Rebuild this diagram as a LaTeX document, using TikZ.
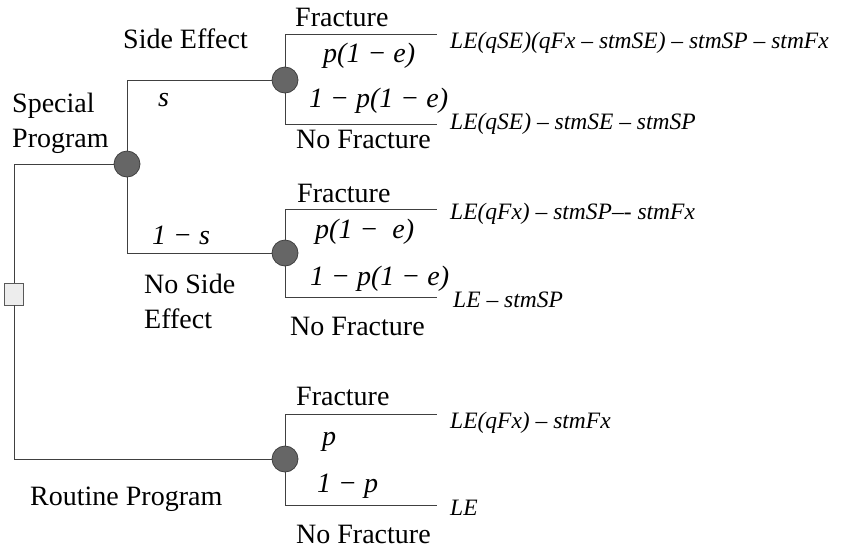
\documentclass[tikz,border=0pt]{standalone}
\usepackage{fontspec}
\setmainfont{Liberation Serif}
\begin{document}
\begin{tikzpicture}[x=1pt,y=-1pt,
  branch/.style={draw=black!75,line width=0.9pt},
  chance/.style={circle,draw=black!75,fill=black!60,line width=0.8pt,minimum size=26pt,inner sep=0pt},
  decision/.style={rectangle,draw=black!65,fill=black!7,line width=0.8pt,minimum width=19pt,minimum height=22pt,inner sep=0pt},
  lbl/.style={anchor=base west,inner sep=0pt,font=\fontsize{28}{34}\selectfont},
  prob/.style={anchor=base west,inner sep=0pt,font=\fontsize{28}{34}\selectfont\itshape},
  pay/.style={anchor=base west,inner sep=0pt,font=\fontsize{23.5}{28}\selectfont\itshape}]
\useasboundingbox (0,0) rectangle (841,550);

% decision and chance nodes
\node[decision] (sq) at (14,294) {};
\node[chance] (A) at (127,164) {};
\node[chance] (B) at (285,80) {};
\node[chance] (C) at (285,253) {};
\node[chance] (D) at (285,459) {};

% branch end points
\coordinate (bF) at (437,34);
\coordinate (bN) at (437,124);
\coordinate (cF) at (437,209);
\coordinate (cN) at (437,297);
\coordinate (dF) at (437,414);
\coordinate (dN) at (437,505);

% connectors
\draw[branch] (sq.north) |- (A.west);
\draw[branch] (sq.south) |- (D.west);
\draw[branch] (A.north) |- (B.west);
\draw[branch] (A.south) |- (C.west);
\draw[branch] (B.north) |- (bF);
\draw[branch] (B.south) |- (bN);
\draw[branch] (C.north) |- (cF);
\draw[branch] (C.south) |- (cN);
\draw[branch] (D.north) |- (dF);
\draw[branch] (D.south) |- (dN);

% left labels
\node[lbl] (sp1) at (12,112) {Special};
\node[lbl] (sp2) at (12,147) {Program};
\node[lbl] (se) at (123,48) {Side Effect};
\node[prob] (s) at (158,106) {s};
\node[prob] (ns) at (152,244) {1 − s};
\node[lbl] (nse1) at (144,293) {No Side};
\node[lbl] (nse2) at (144,328) {Effect};
\node[lbl] (rp) at (30,505) {Routine Program};

% B branch labels
\node[lbl] (bFl) at (295,26) {Fracture};
\node[prob] (bp) at (323,62) {p(1 − e)};
\node[prob] (bq) at (309,107) {1 − p(1 − e)};
\node[lbl] (bNl) at (296,148) {No Fracture};
\node[pay] (bF2) at (450,48) {LE(qSE)(qFx – stmSE) – stmSP – stmFx};
\node[pay] (bN2) at (450,129) {LE(qSE) – stmSE – stmSP};

% C branch labels
\node[lbl] (cFl) at (297,202) {Fracture};
\node[prob] (cp) at (315,238) {p(1 −\ \ e)};
\node[prob] (cq) at (310,285) {1 − p(1 − e)};
\node[lbl] (cNl) at (290,335) {No Fracture};
\node[pay] (cF2) at (450,219) {LE(qFx) – stmSP–- stmFx};
\node[pay] (cN2) at (453,307) {LE – stmSP};

% D branch labels
\node[lbl] (dFl) at (296,405) {Fracture};
\node[prob] (dp) at (322,445) {p};
\node[prob] (dq) at (317,492) {1 − p};
\node[lbl] (dNl) at (296,543) {No Fracture};
\node[pay] (dF2) at (450,428) {LE(qFx) – stmFx};
\node[pay] (dN2) at (450,515) {LE};
\end{tikzpicture}
\end{document}
